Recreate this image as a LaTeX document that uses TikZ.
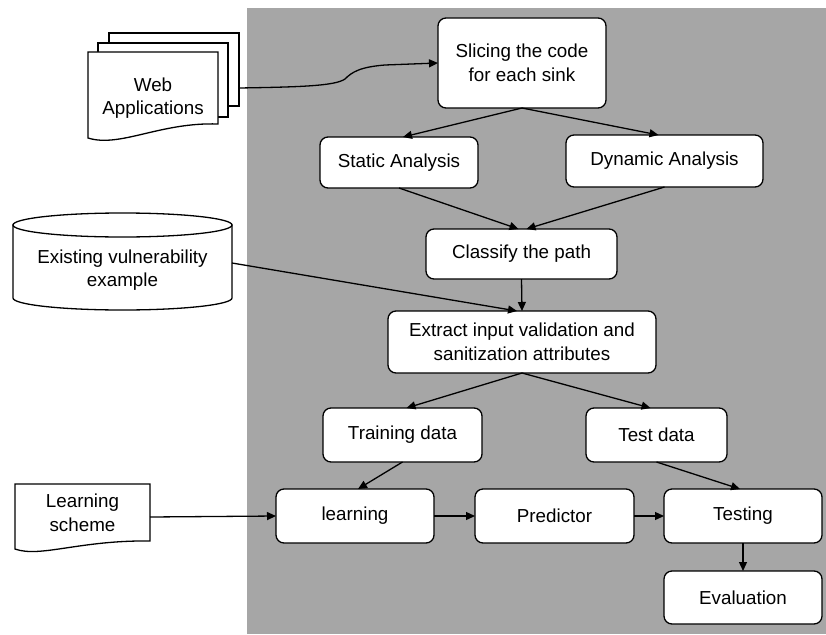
\documentclass[tikz,border=0pt]{standalone}
\usepackage{fontspec}
\setmainfont{Liberation Sans}
\usetikzlibrary{arrows.meta}
\definecolor{bg}{RGB}{166,166,166}
\begin{document}
\begin{tikzpicture}[x=1pt,y=-1pt,
  txt/.style={font=\fontsize{18.8}{23.5}\selectfont},
  box/.style={draw, fill=white, rounded corners=8pt, line width=1.3pt, align=center,
    inner sep=0pt, outer sep=0pt, txt},
  lbl/.style={align=center, inner sep=0pt, outer sep=0pt, txt},
  shp/.style={draw, fill=white, line width=1.3pt},
  conn/.style={line width=1.3pt, -{Triangle[length=9pt,width=8pt]}}]
\useasboundingbox (0,0) rectangle (826,634);
\fill[bg] (247,8) rectangle (826,634);

% Web applications (multi-document)
\draw[shp] (109,33) rectangle (239,106);
\draw[shp] (98,43) rectangle (228,117);
\draw[shp] (88,52) -- (218,52) -- (218,124) .. controls (160,122) and (120,148) .. (88,138) -- cycle;
\node[lbl] (web) at (153,98) {Web\\Applications};
\coordinate (webout) at (239,88);

% Existing vulnerability example (cylinder)
\draw[shp] (13,225) -- (13,298) .. controls (13,304.6) and (62,310) .. (122.5,310)
  .. controls (183,310) and (232,304.6) .. (232,298) -- (232,225) -- cycle;
\draw[shp] (122.5,225) ellipse [x radius=109.5, y radius=12];
\node[lbl] (exist) at (122.5,270) {Existing vulnerability\\example};
\coordinate (existout) at (232,263);

% Learning scheme (document)
\draw[shp] (15,484) -- (150,484) -- (150,541) .. controls (80,540) and (40,558) .. (15,549) -- cycle;
\node[lbl] (scheme) at (82.5,513) {Learning\\scheme};
\coordinate (schemeout) at (150,517);

% Process boxes
\node[box, minimum width=168pt, minimum height=90pt] (slicing) at (522,63) {Slicing the code\\for each sink};
\node[box, minimum width=158pt, minimum height=51pt] (static) at (399,162.5) {Static Analysis};
\node[box, minimum width=197pt, minimum height=52pt] (dynamic) at (664.5,161) {Dynamic Analysis};
\node[box, minimum width=191pt, minimum height=50pt] (classify) at (521.5,254) {Classify the path};
\node[box, minimum width=268pt, minimum height=62pt] (extract) at (522,342) {Extract input validation and\\sanitization attributes};
\node[box, minimum width=159pt, minimum height=54pt] (training) at (402.5,435) {Training data};
\node[box, minimum width=141pt, minimum height=54pt] (test) at (656.5,435) {Test data};
\node[box, minimum width=158pt, minimum height=54pt] (learning) at (355,516) {learning};
\node[box, minimum width=159pt, minimum height=54pt] (predictor) at (554.5,516) {Predictor};
\node[box, minimum width=158pt, minimum height=54pt] (testing) at (743,516) {Testing};
\node[box, minimum width=158pt, minimum height=53pt] (evaluation) at (743,597.5) {Evaluation};

% Connectors
\draw[conn] (webout) .. controls (300,87) and (335,86) .. (345,79)
  .. controls (352,72) and (360,67) .. (385,65) -- (slicing.west);
\draw[conn] (slicing.south) -- ([xshift=4pt]static.north);
\draw[conn] (slicing.south) -- ([xshift=-6pt]dynamic.north);
\draw[conn] (static.south) -- ([xshift=-3pt]classify.north);
\draw[conn] (dynamic.south) -- ([xshift=5pt]classify.north);
\draw[conn] (classify.south) -- (extract.north);
\draw[conn] (existout) -- ([xshift=-5pt]extract.north);
\draw[conn] (extract.south) -- ([xshift=4pt]training.north);
\draw[conn] (extract.south) -- ([xshift=-6pt]test.north);
\draw[conn] (training.south) -- ([xshift=3pt]learning.north);
\draw[conn] (test.south) -- ([xshift=-3pt]testing.north);
\draw[conn] (schemeout) -- (learning.west);
\draw[conn] (learning.east) -- (predictor.west);
\draw[conn] (predictor.east) -- (testing.west);
\draw[conn] (testing.south) -- (evaluation.north);
\end{tikzpicture}
\end{document}
